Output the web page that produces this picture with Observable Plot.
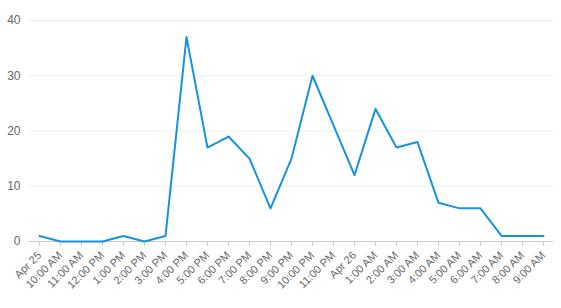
<!DOCTYPE html>
<html>
<head>
<meta charset="utf-8">
<script src="https://cdn.jsdelivr.net/npm/d3@7"></script>
<script src="https://cdn.jsdelivr.net/npm/@observablehq/plot@0.6"></script>
<style>
  html, body { margin: 0; padding: 0; background: #fff; }
  svg { display: block; }
</style>
</head>
<body>
<div id="chart"></div>
<script>
const labels = ["Apr 25","10:00 AM","11:00 AM","12:00 PM","1:00 PM","2:00 PM","3:00 PM","4:00 PM","5:00 PM","6:00 PM","7:00 PM","8:00 PM","9:00 PM","10:00 PM","11:00 PM","Apr 26","1:00 AM","2:00 AM","3:00 AM","4:00 AM","5:00 AM","6:00 AM","7:00 AM","8:00 AM","9:00 AM"];
const values = [1,0,0,0,1,0,1,37,17,19,15,6,15,30,21,12,24,17,18,7,6,6,1,1,1];
const yTicks = [0,10,20,30,40];

const data = labels.map((l, i) => ({label: l, value: values[i]}));

const chart = Plot.plot({
  width: 561,
  height: 308,
  marginLeft: 28,
  marginRight: 8,
  marginTop: 20,
  marginBottom: 67,
  style: {fontFamily: "'Liberation Sans', Arial, sans-serif", fontSize: "11px", color: "#666", background: "#fff"},
  x: {type: "point", domain: labels, padding: 0.5, label: null},
  y: {domain: [0, 40], label: null},
  marks: [
    Plot.gridY(yTicks, {stroke: "#efefef", strokeOpacity: 1}),
    Plot.axisY(yTicks, {tickSize: 0, tickPadding: 8, fill: "#666", fontSize: 12}),
    Plot.ruleY([0], {stroke: "#ccc", strokeWidth: 1}),
    Plot.axisX({tickRotate: -45, tickSize: 5, tickPadding: 7, stroke: "#ccc", fill: "#666", fontSize: 11}),
    Plot.line(data, {x: "label", y: "value", stroke: "#1593e0", strokeWidth: 2})
  ]
});
document.getElementById("chart").appendChild(chart);
</script>
</body>
</html>
